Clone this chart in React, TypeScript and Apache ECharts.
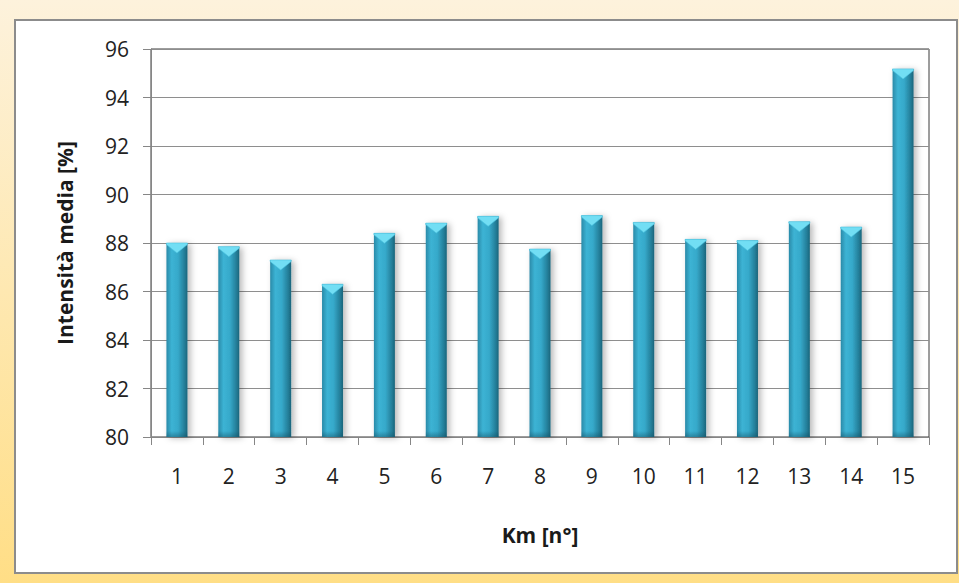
import React, { useEffect, useRef } from "react";
import * as echarts from "echarts";

const categories = ["1", "2", "3", "4", "5", "6", "7", "8", "9", "10", "11", "12", "13", "14", "15"];
const intensita = [88.0, 87.85, 87.3, 86.3, 88.4, 88.82, 89.1, 87.75, 89.13, 88.85, 88.15, 88.1, 88.88, 88.66, 95.18];
const yMin = 80;
const yMax = 96;
const yStep = 2;
const yTitle = "Intensità media [%]";
const xTitle = "Km [n°]";

const FONT = "'Open Sans', 'Noto Sans', sans-serif";

export default function App() {
  const ref = useRef<HTMLDivElement>(null);
  useEffect(() => {
    if (!ref.current) return;
    const chart = echarts.init(ref.current, undefined, { renderer: "svg" });
    const data = intensita.map((v, i) => [i, v]);
    chart.setOption({
      animation: false,
      backgroundColor: new echarts.graphic.LinearGradient(0, 0, 0, 1, [
        { offset: 0, color: "#FDF2DC" },
        { offset: 1, color: "#FFDE86" },
      ]),
      textStyle: { fontFamily: FONT },
      graphic: [
        {
          type: "rect",
          z: -10,
          shape: { x: 15, y: 20, width: 942, height: 553 },
          style: { fill: "#ffffff", stroke: "#8c8c8c", lineWidth: 2 },
        },
      ],
      grid: {
        left: 151,
        top: 49,
        right: 30,
        bottom: 146,
        show: true,
        borderColor: "#3a3a3a",
        borderWidth: 1,
        backgroundColor: "transparent",
      },
      xAxis: {
        type: "category",
        data: categories,
        boundaryGap: true,
        name: xTitle,
        nameLocation: "middle",
        nameGap: 87,
        nameTextStyle: { fontSize: 21, fontWeight: "bold", color: "#1a1a1a", fontFamily: FONT },
        axisLine: { lineStyle: { color: "#868686", width: 1 } },
        axisTick: { show: true, length: 8, alignWithLabel: false, lineStyle: { color: "#868686" } },
        axisLabel: { fontSize: 21, color: "#222", margin: 28, fontFamily: FONT },
        splitLine: { show: false },
      },
      yAxis: {
        type: "value",
        min: yMin,
        max: yMax,
        interval: yStep,
        name: yTitle,
        nameLocation: "middle",
        nameRotate: 90,
        nameGap: 76,
        nameTextStyle: { fontSize: 21, fontWeight: "bold", color: "#1a1a1a", fontFamily: FONT },
        axisLine: { show: true, lineStyle: { color: "#868686", width: 1 } },
        axisTick: { show: true, length: 8, lineStyle: { color: "#868686" } },
        axisLabel: { fontSize: 21, color: "#222", margin: 22, fontFamily: FONT },
        splitLine: { show: true, lineStyle: { color: "#8e8e8e", width: 1 } },
      },
      series: [
        {
          type: "custom",
          data,
          encode: { x: 0, y: 1 },
          renderItem: (params: any, api: any) => {
            const idx = api.value(0);
            const val = api.value(1);
            const top = api.coord([idx, val]);
            const base = api.coord([idx, yMin]);
            const bw = api.size([1, 0])[0] * 0.405;
            const x0 = top[0] - bw / 2;
            const h = base[1] - top[1];
            const capH = Math.min(10, h);
            return {
              type: "group",
              children: [
                {
                  type: "rect",
                  shape: { x: x0, y: top[1], width: bw, height: h },
                  style: {
                    fill: new echarts.graphic.LinearGradient(0, 0, 1, 0, [
                      { offset: 0, color: "#2a8aa8" },
                      { offset: 0.25, color: "#3cb3d4" },
                      { offset: 0.55, color: "#36a9ca" },
                      { offset: 0.85, color: "#247f9a" },
                      { offset: 1, color: "#1b657b" },
                    ]),
                    shadowBlur: 6,
                    shadowOffsetX: 3,
                    shadowOffsetY: 1,
                    shadowColor: "rgba(0,0,0,0.28)",
                  },
                },
                {
                  type: "rect",
                  shape: { x: x0, y: base[1] - 6, width: bw, height: 6 },
                  style: {
                    fill: new echarts.graphic.LinearGradient(0, 0, 0, 1, [
                      { offset: 0, color: "rgba(20,80,100,0)" },
                      { offset: 1, color: "rgba(20,80,100,0.45)" },
                    ]),
                  },
                },
                {
                  type: "polygon",
                  shape: {
                    points: [
                      [x0, top[1]],
                      [x0 + bw, top[1]],
                      [x0 + bw, top[1] + 1.5],
                      [top[0], top[1] + capH],
                      [x0, top[1] + 1.5],
                    ],
                  },
                  style: { fill: "#72def4", stroke: "#4cc3df", lineWidth: 0.6 },
                },
              ],
            };
          },
        },
      ],
    });
    return () => chart.dispose();
  }, []);
  return (
    <div style={{ position: "fixed", left: 0, top: 0, width: 959, height: 583 }}>
      <div ref={ref} style={{ width: 959, height: 583 }} />
    </div>
  );
}
